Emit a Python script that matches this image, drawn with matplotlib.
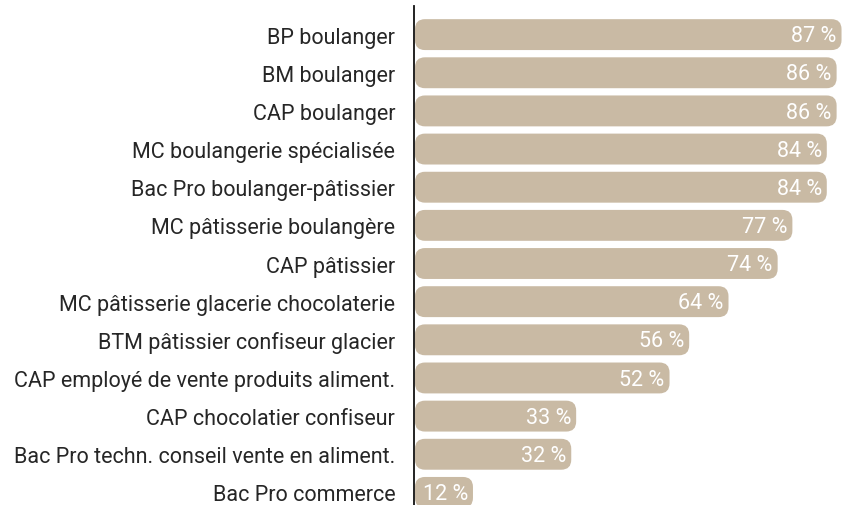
import matplotlib
matplotlib.use("Agg")
import matplotlib.pyplot as plt
from matplotlib.patches import FancyBboxPatch

# ── data ──────────────────────────────────────────────────────────────────────
diplomes = [
    "BP boulanger",
    "BM boulanger",
    "CAP boulanger",
    "MC boulangerie spécialisée",
    "Bac Pro boulanger-pâtissier",
    "MC pâtisserie boulangère",
    "CAP pâtissier",
    "MC pâtisserie glacerie chocolaterie",
    "BTM pâtissier confiseur glacier",
    "CAP employé de vente produits aliment.",
    "CAP chocolatier confiseur",
    "Bac Pro techn. conseil vente en aliment.",
    "Bac Pro commerce",
]
taux = [87, 86, 86, 84, 84, 77, 74, 64, 56, 52, 33, 32, 12]

BAR_COLOR = "#c9baa4"
TEXT_COLOR = "#262626"
BAR_H = 0.81
FS = 15.5
plt.rcParams["font.family"] = ["Roboto", "DejaVu Sans"]

W, H = 843, 506
fig = plt.figure(figsize=(W / 100, H / 100), dpi=100)
ax = fig.add_axes([414 / W, 0, 1 - 414 / W, 1 - 7 / H])

x_max = 87.3
ax.set_xlim(0, x_max)
ax.set_ylim(len(taux) - 1 + 0.33, -0.75)

# px per data unit, used to keep the corner radius round on screen
px_x = (W - 414) / x_max
px_y = (H - 7) / (len(taux) - 1 + 0.33 + 0.75)
radius_px = 10
rx = radius_px / px_x
aspect = (radius_px / px_y) / rx

for i, (lab, v) in enumerate(zip(diplomes, taux)):
    box = FancyBboxPatch((0.2, i - BAR_H / 2), v - 0.2, BAR_H,
                         boxstyle=f"round,pad=0,rounding_size={rx}",
                         mutation_aspect=aspect,
                         facecolor=BAR_COLOR, edgecolor="none", clip_on=False)
    ax.add_patch(box)
    ax.text(v - 1.0, i + 0.03, f"{v} %", ha="right", va="center",
            color="white", fontsize=FS)

ax.set_yticks(range(len(diplomes)))
ax.set_yticklabels(diplomes, fontsize=FS, color=TEXT_COLOR)
ax.tick_params(axis="y", length=0, pad=13.5)
ax.set_xticks([])

for side in ("top", "right", "bottom"):
    ax.spines[side].set_visible(False)
ax.spines["left"].set_color("#111111")
ax.spines["left"].set_linewidth(1.3)
ax.patch.set_visible(False)

fig.savefig("out.png", dpi=100)
